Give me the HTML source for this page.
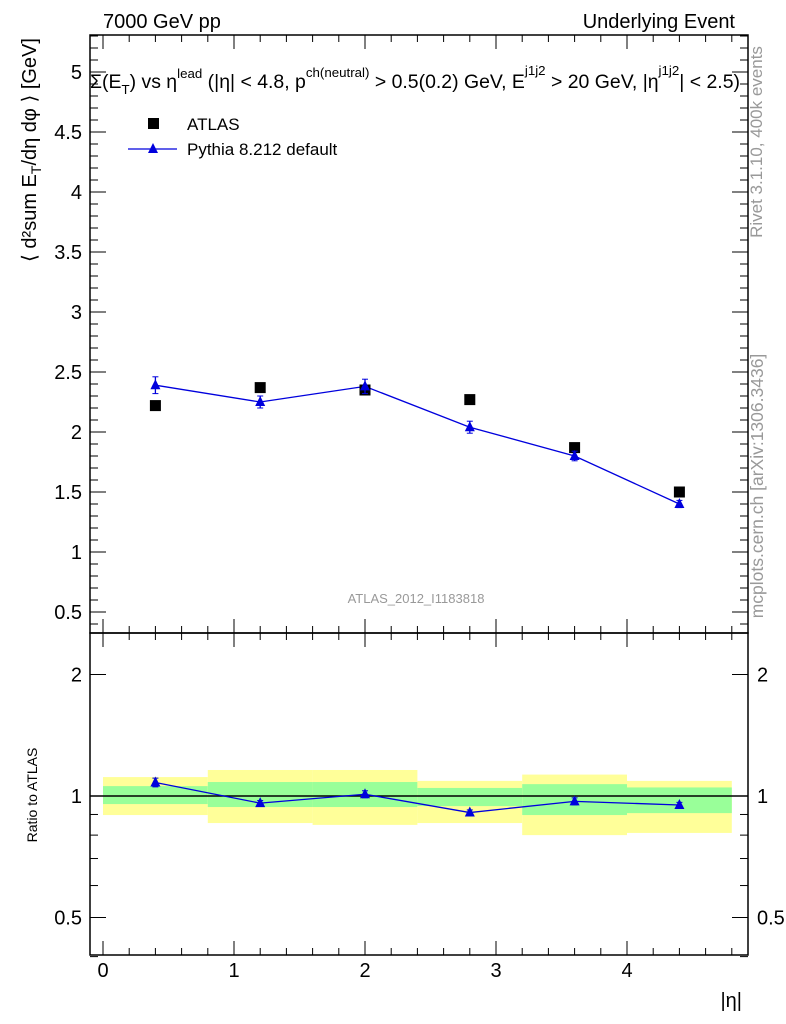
<!DOCTYPE html>
<html><head><meta charset="utf-8"><style>
body{margin:0;background:#fff;}
svg{display:block;font-family:"Liberation Sans",sans-serif;}
</style></head><body>
<svg id="c" width="786" height="1024" viewBox="0 0 786 1024">
<text x="103" y="28" font-size="20">7000 GeV pp</text>
<text x="735" y="28" font-size="20" text-anchor="end">Underlying Event</text>
<text x="90" y="88" font-size="19" textLength="650" lengthAdjust="spacingAndGlyphs">Σ(E<tspan font-size="13" dy="6">T</tspan><tspan dy="-6">) vs η</tspan><tspan font-size="13" dy="-10">lead</tspan><tspan dy="10"> (|η| &lt; 4.8, p</tspan><tspan font-size="13" dy="-11">ch(neutral)</tspan><tspan dy="11"> &gt; 0.5(0.2) GeV, E</tspan><tspan font-size="13" dy="-13">j1j2</tspan><tspan dy="13"> &gt; 20 GeV, |η</tspan><tspan font-size="13" dy="-13">j1j2</tspan><tspan dy="13">| &lt; 2.5)</tspan></text>
<text transform="translate(762,142) rotate(-90)" font-size="17" fill="#999" text-anchor="middle">Rivet 3.1.10,  400k events</text>
<text transform="translate(763,486) rotate(-90)" font-size="17.5" fill="#999" text-anchor="middle">mcplots.cern.ch [arXiv:1306.3436]</text>
<text x="416" y="603" font-size="13" fill="#999" text-anchor="middle">ATLAS_2012_I1183818</text>
<text transform="translate(36,150) rotate(-90)" font-size="20" text-anchor="middle">⟨ d²sum E<tspan font-size="14" dy="5">T</tspan><tspan dy="-5">/dη dφ ⟩ [GeV]</tspan></text>
<text transform="translate(37,795) rotate(-90)" font-size="14" text-anchor="middle">Ratio to ATLAS</text>
<text x="742" y="1007" font-size="20" text-anchor="end">|η|</text>
<g id="g"></g>
</svg>
<script>
const binEdges=[0,0.8,1.6,2.4,3.2,4.0,4.8];
const xVals=[0.4,1.2,2.0,2.8,3.6,4.4];
const atlasVals=[2.22,2.37,2.35,2.27,1.87,1.50];
const pythiaVals=[2.39,2.25,2.38,2.04,1.80,1.40];
const pythiaErr=[0.07,0.05,0.06,0.05,0.04,0.03];
const ratioVals=[1.08,0.96,1.01,0.91,0.97,0.95];
const ratioErr=[0.025,0.015,0.02,0.015,0.02,0.015];
const yellowLo=[0.897,0.857,0.848,0.857,0.80,0.81];
const yellowHi=[1.114,1.16,1.16,1.09,1.13,1.09];
const greenLo=[0.955,0.939,0.939,0.944,0.897,0.907];
const greenHi=[1.058,1.083,1.083,1.047,1.07,1.05];
const xTicks=[0,1,2,3,4];
const yTicks=[0.5,1,1.5,2,2.5,3,3.5,4,4.5,5];
const rTicks=[0.5,1,2];
const L=90,R=748,T=35,M=633,B=955;
const X=v=>103+v*131;
const Y=v=>552-(v-1)*120;
const RY=v=>796-Math.log2(v)*121.5;
const g=document.getElementById('g');
const NS='http://www.w3.org/2000/svg';
function mk(t,a,p){const e=document.createElementNS(NS,t);for(const k in a)e.setAttribute(k,a[k]);(p||g).appendChild(e);return e;}
for(let i=0;i<6;i++){
 const x0=X(binEdges[i]),x1=X(binEdges[i+1]);
 let e=mk('rect',{x:x0,y:RY(yellowHi[i]),width:x1-x0,height:RY(yellowLo[i])-RY(yellowHi[i]),fill:'#ffff99'});
 
 
 e=mk('rect',{x:x0,y:RY(greenHi[i]),width:x1-x0,height:RY(greenLo[i])-RY(greenHi[i]),fill:'#99ff99'});
 
 
}
mk('line',{x1:L,x2:R,y1:RY(1),y2:RY(1),stroke:'#000','stroke-width':1.5});
let f=mk('rect',{x:L,y:T,width:R-L,height:M-T,fill:'none',stroke:'#000','stroke-width':1.5});


f=mk('rect',{x:L,y:M,width:R-L,height:B-M,fill:'none',stroke:'#000','stroke-width':1.5});


for(let v=0;v<=4.8001;v+=0.2){
 const maj=Math.abs(v-Math.round(v))<1e-6,len=maj?14:7,x=X(v);
 [[T,1],[M,-1],[M,1],[B,-1]].forEach(([y,d])=>mk('line',{x1:x,x2:x,y1:y,y2:y+d*len,stroke:'#000'}));
}
xTicks.forEach(v=>{const t=mk('text',{x:X(v),y:977,'font-size':20,'text-anchor':'middle'});t.textContent=v;

});
for(let v=0.4;v<=5.3;v+=0.1){
 const y=Y(v);if(y<T||y>M)continue;
 const maj=Math.abs(v*2-Math.round(v*2))<1e-6,len=maj?16:8;
 mk('line',{x1:L,x2:L+len,y1:y,y2:y,stroke:'#000'});mk('line',{x1:R,x2:R-len,y1:y,y2:y,stroke:'#000'});
}
yTicks.forEach(v=>{const t=mk('text',{x:82,y:Y(v)+7,'font-size':20,'text-anchor':'end'});t.textContent=v;

});
[0.4,0.5,0.6,0.7,0.8,0.9,1,2].forEach(v=>{const y=RY(v),maj=rTicks.includes(v),len=maj?16:8;
 mk('line',{x1:L,x2:L+len,y1:y,y2:y,stroke:'#000'});mk('line',{x1:R,x2:R-len,y1:y,y2:y,stroke:'#000'});});
rTicks.forEach(v=>{[[82,'end'],[757,'start']].forEach(([x,a])=>{const t=mk('text',{x:x,y:RY(v)+7,'font-size':20,'text-anchor':a});t.textContent=v;

});});
mk('polyline',{points:xVals.map((x,i)=>X(x)+','+Y(pythiaVals[i])).join(' '),fill:'none',stroke:'#0000dd','stroke-width':1.3});
function tri(x,y,n){mk('line',{x1:x,x2:x,y1:y-n.e,y2:y+n.e,stroke:'#0000dd','stroke-width':1.3});
 mk('line',{x1:x-3,x2:x+3,y1:y-n.e,y2:y-n.e,stroke:'#0000dd'});mk('line',{x1:x-3,x2:x+3,y1:y+n.e,y2:y+n.e,stroke:'#0000dd'});
 const p=mk('polygon',{points:`${x},${y-6} ${x-5},${y+4} ${x+5},${y+4}`,fill:'#0000dd'});
 
 }
xVals.forEach((x,i)=>{
 const r=mk('rect',{x:X(x)-5.5,y:Y(atlasVals[i])-5.5,width:11,height:11,fill:'#000'});
 
 
 tri(X(x),Y(pythiaVals[i]),{e:pythiaErr[i]*120,name:'pythia-point'});
});
mk('polyline',{points:xVals.map((x,i)=>X(x)+','+RY(ratioVals[i])).join(' '),fill:'none',stroke:'#0000dd','stroke-width':1.3});
xVals.forEach((x,i)=>tri(X(x),RY(ratioVals[i]),{e:ratioErr[i]*175,name:'pythia-ratio-point'}));
let r=mk('rect',{x:148,y:118,width:11,height:11,fill:'#000'});


let t=mk('text',{x:187,y:130,'font-size':17});t.textContent='ATLAS';


mk('line',{x1:128,x2:177,y1:149,y2:149,stroke:'#0000dd','stroke-width':1.3});
mk('polygon',{points:'153,143 148,153 158,153',fill:'#0000dd'});
t=mk('text',{x:187,y:155,'font-size':17});t.textContent='Pythia 8.212 default';


</script>
</body></html>
